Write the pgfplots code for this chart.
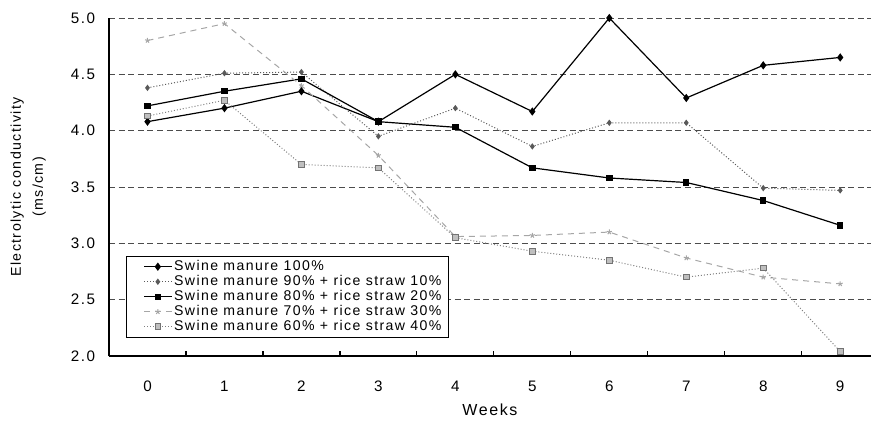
\documentclass[border=0pt]{standalone}
\usepackage{fontspec}
\setmainfont[LetterSpace=10]{Liberation Sans}
\usepackage{pgfplots}
\pgfplotsset{compat=1.18}
\begin{document}
\begin{tikzpicture}
\path[use as bounding box] (-54.5pt,-33.5pt) rectangle (381pt,178pt);
\begin{axis}[
  at={(0,0)}, anchor=south west,
  scale only axis, width=381pt, height=169pt,
  xmin=-0.5, xmax=9.4, ymin=2, ymax=5,
  axis x line*=bottom, axis y line*=left,
  axis line style={-, black, line width=0.6pt},
  xtick={0,...,9},
  minor xtick={0.5,1.5,...,8.5},
  major x tick style={draw=none},
  minor tick length=2.5pt,
  minor x tick style={black, line width=0.6pt},
  ytick={2,2.5,...,5},
  ytick style={draw=none},
  ymajorgrids,
  major grid style={black!70, line width=0.45pt, dash pattern=on 3pt off 1.8pt},
  tick label style={font=\fontsize{7.6}{8}\selectfont},
  /pgf/number format/assume math mode=true,
  yticklabel style={xshift=-3.4pt, /pgf/number format/.cd, fixed, fixed zerofill, precision=1},
  xticklabel style={yshift=-9pt},
  xlabel={Weeks},
  xlabel style={at={(axis description cs:0.5,-0.16)}, anchor=center, font=\fontsize{8}{9}\selectfont},
  ylabel={Electrolytic conductivity\\(ms/cm)},
  ylabel style={at={(axis description cs:-0.106,0.5)}, anchor=center, align=center, font=\fontsize{7.1}{11}\selectfont},
  legend style={at={(axis description cs:0.0223,0.0533)}, anchor=south west,
    draw=black, line width=0.6pt, font=\fontsize{7.05}{7.5}\selectfont,
    inner xsep=2.5pt, inner ysep=1pt, row sep=-1.1pt,
    nodes={inner sep=1pt}},
  legend cell align=left,
  legend image code/.code={\path (-6pt,0pt);
    \draw[mark repeat=2,mark phase=2,#1] plot coordinates {(0cm,0cm) (0.24cm,0cm) (0.48cm,0cm)};},
]
\addplot[black, line width=0.6pt, mark=diamond*, mark size=1.6pt, mark options={solid}] coordinates {
(0,4.08) (1,4.20) (2,4.35) (3,4.08) (4,4.50) (5,4.17) (6,5.00) (7,4.29) (8,4.58) (9,4.65)};
\addlegendentry{Swine manure 100\%}
\addplot[black!65, line width=0.5pt, densely dotted, mark=diamond*, mark size=1.2pt, mark options={solid}] coordinates {
(0,4.38) (1,4.51) (2,4.52) (3,3.95) (4,4.20) (5,3.86) (6,4.07) (7,4.07) (8,3.49) (9,3.47)};
\addlegendentry{Swine manure 90\% + rice straw 10\%}
\addplot[black, line width=0.6pt, mark=square*, mark size=1.3pt, mark options={solid}] coordinates {
(0,4.22) (1,4.35) (2,4.46) (3,4.08) (4,4.03) (5,3.67) (6,3.58) (7,3.54) (8,3.38) (9,3.16)};
\addlegendentry{Swine manure 80\% + rice straw 20\%}
\addplot[black!35, line width=0.5pt, dash pattern=on 3pt off 2.5pt, mark=star, mark size=1.3pt, mark options={solid}] coordinates {
(0,4.80) (1,4.95) (2,4.40) (3,3.78) (4,3.06) (5,3.07) (6,3.10) (7,2.87) (8,2.70) (9,2.64)};
\addlegendentry{Swine manure 70\% + rice straw 30\%}
\addplot[black!50, line width=0.5pt, densely dotted, mark=square*, mark size=1.4pt, mark options={solid, fill=black!25, draw=black!55}] coordinates {
(0,4.13) (1,4.27) (2,3.70) (3,3.67) (4,3.05) (5,2.93) (6,2.85) (7,2.70) (8,2.78) (9,2.04)};
\addlegendentry{Swine manure 60\% + rice straw 40\%}
\end{axis}
\end{tikzpicture}
\end{document}
